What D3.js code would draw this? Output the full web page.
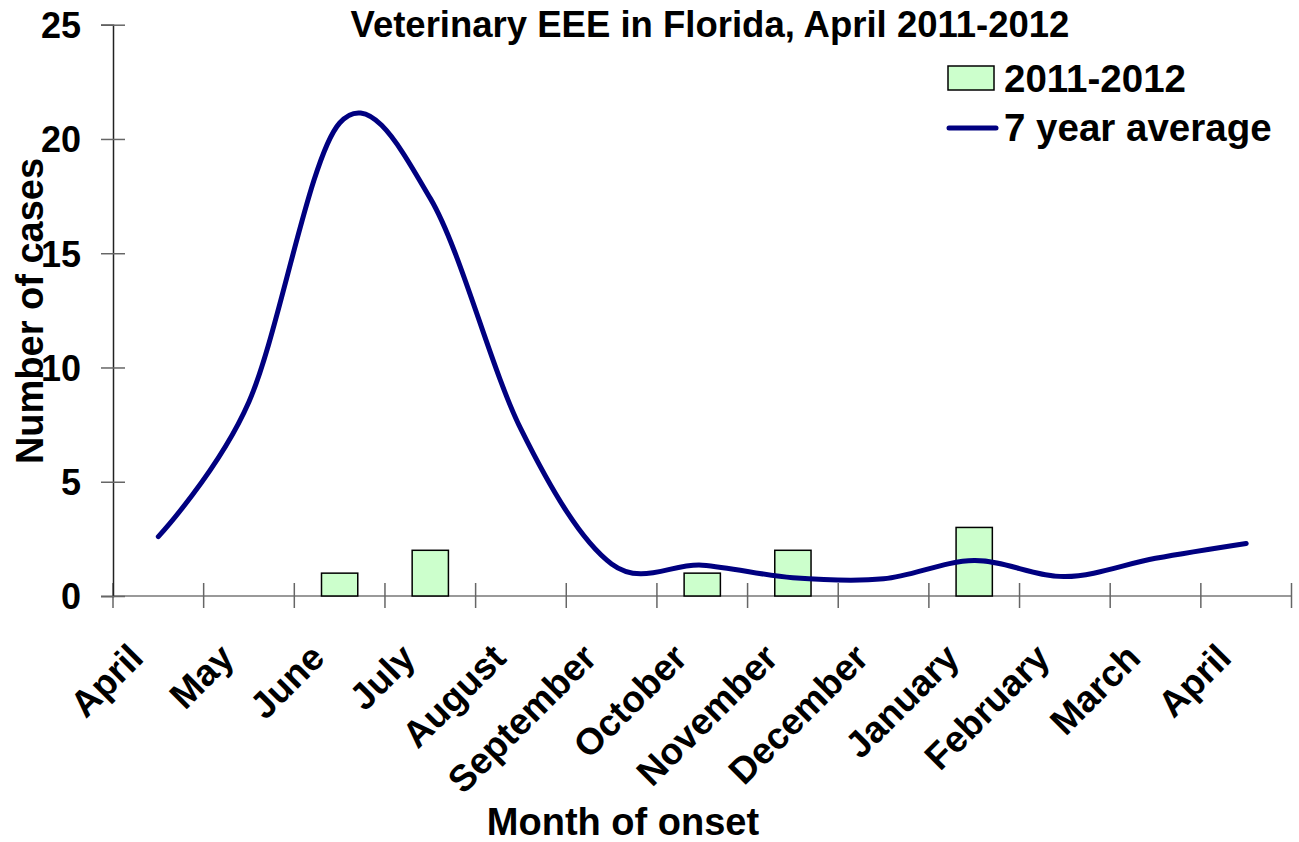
<!DOCTYPE html>
<html><head><meta charset="utf-8">
<script src="https://cdn.jsdelivr.net/npm/d3@7"></script>
<style>
body{margin:0;background:#fff;}
text{font-family:"Liberation Sans",Arial,sans-serif;font-weight:bold;fill:#000;}
</style>
</head><body>
<svg id="c" width="1299" height="842"></svg>
<script>
const months = ["April","May","June","July","August","September","October","November","December","January","February","March","April"];
const cases20112012 = [0,0,1,2,0,0,1,2,0,3,0,0,0];
const avg7yr = [2.6,8.5,20.7,17.4,7.3,1.4,1.35,0.8,0.75,1.55,0.85,1.65,2.3];
const yTicks = [0,5,10,15,20,25];
const titleText = "Veterinary EEE in Florida, April 2011-2012";
const seriesNames = ["2011-2012","7 year average"];

(function(){
const svg = d3.select("#c");
const pL = 113, pR = 1291.5, pT = 24.7, pB = 596;

const x = d3.scaleBand().domain(d3.range(months.length)).range([pL, pR]).padding(0);
const y = d3.scaleLinear().domain([0, 25]).range([pB, pT]);
const bw = x.bandwidth();
const barW = bw * 0.4;

// X axis line and ticks
svg.append("line").attr("x1", pL).attr("x2", pR).attr("y1", pB).attr("y2", pB)
  .attr("stroke", "#777").attr("stroke-width", 1.5);
const bounds = d3.range(months.length + 1).map(i => i < months.length ? x(i) : x(months.length - 1) + bw);
svg.selectAll(".xt").data(bounds).enter().append("line")
  .attr("x1", d => d).attr("x2", d => d).attr("y1", pB - 13).attr("y2", pB + 12)
  .attr("stroke", "#666").attr("stroke-width", 1.5);

// Y axis
const yAxis = d3.axisLeft(y).tickValues(yTicks).tickSize(12).tickPadding(0);
const gy = svg.append("g").attr("transform", `translate(${pL},0)`).call(yAxis);
gy.select(".domain").attr("stroke", "#222").attr("stroke-width", 1.5);
gy.selectAll(".tick line").attr("x1", 12).attr("x2", -12).attr("stroke", "#666").attr("stroke-width", 1.5);
gy.selectAll(".tick text").attr("x", -32).attr("dy", "0.36em")
  .style("font-family", '"Liberation Sans",Arial,sans-serif').style("font-weight", "bold")
  .style("font-size", "36px").attr("fill", "#000");

// Bars
svg.selectAll(".bar").data(cases20112012.map((v, i) => ({v, i})).filter(d => d.v > 0))
  .enter().append("rect")
  .attr("x", d => x(d.i) + (bw - barW) / 2).attr("width", barW)
  .attr("y", d => y(d.v)).attr("height", d => y(0) - y(d.v))
  .attr("fill", "#CCFFCC").attr("stroke", "#000").attr("stroke-width", 1.5);

// Line
const line = d3.line().x((d, i) => x(i) + bw / 2).y(d => y(d)).curve(d3.curveCardinal.tension(0));
svg.append("path").datum(avg7yr).attr("d", line)
  .attr("fill", "none").attr("stroke", "#000080").attr("stroke-width", 5).attr("stroke-linecap", "round");

// X labels
svg.selectAll(".xl").data(months).enter().append("text")
  .attr("transform", (d, i) => `translate(${x(i) + bw / 2 - 13},${pB + 64}) rotate(-45)`)
  .attr("text-anchor", "end").style("font-size", "37px").text(d => d);

// Title
svg.append("text").attr("x", 710).attr("y", 37).attr("text-anchor", "middle")
  .style("font-size", "36.5px").text(titleText);

// Axis titles
svg.append("text").attr("x", 623).attr("y", 835).attr("text-anchor", "middle")
  .style("font-size", "38px").text("Month of onset");
svg.append("text").attr("transform", "translate(43,311) rotate(-90)").attr("text-anchor", "middle")
  .style("font-size", "38px").text("Number of cases");

// Legend
const lg = svg.append("g");
lg.append("rect").attr("x", 948).attr("y", 66).attr("width", 46).attr("height", 24)
  .attr("fill", "#CCFFCC").attr("stroke", "#000").attr("stroke-width", 1.5);
lg.append("text").attr("x", 1004).attr("y", 92).style("font-size", "38.5px").text(seriesNames[0]);
lg.append("line").attr("x1", 949).attr("x2", 996).attr("y1", 128).attr("y2", 128)
  .attr("stroke", "#000080").attr("stroke-width", 5).attr("stroke-linecap", "round");
lg.append("text").attr("x", 1004).attr("y", 141).style("font-size", "38.5px").text(seriesNames[1]);
})();
</script>
</body></html>
